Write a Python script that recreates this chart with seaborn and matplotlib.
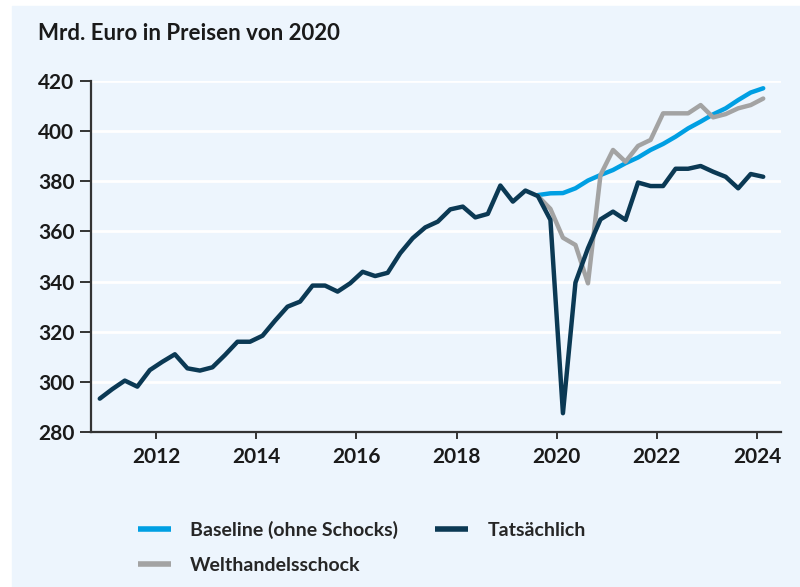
import matplotlib
matplotlib.use("Agg")
import matplotlib.pyplot as plt
import matplotlib.patches as mpatches
import seaborn as sns
import pandas as pd
import numpy as np

# quarterly series, 2010Q4 .. 2024Q1
quarters = pd.period_range("2010Q4", "2024Q1", freq="Q")

actual = [293.3, 297.1, 300.5, 298.1, 304.7, 308.0, 311.0, 305.4, 304.5, 305.8,
          310.7, 316.0, 316.0, 318.4, 324.4, 330.0, 332.0, 338.4, 338.4, 336.0,
          339.3, 343.9, 342.2, 343.5, 351.3, 357.3, 361.6, 363.9, 368.8, 369.9,
          365.6, 367.0, 378.3, 371.9, 376.3, 374.1, 364.6, 287.5, 339.6, 353.3,
          364.8, 367.9, 364.6, 379.5, 378.1, 378.1, 385.0, 385.0, 386.1, 383.8,
          381.8, 377.2, 382.9, 381.8]

# scenarios start in 2019Q3
baseline = [374.5, 375.2, 375.3, 377.2, 380.3, 382.5, 384.5, 387.2, 389.5, 392.5,
            394.9, 397.8, 401.1, 403.8, 406.7, 409.1, 412.4, 415.4, 417.1]
trade_shock = [374.1, 369.0, 357.5, 354.6, 339.3, 382.5, 392.5, 387.8, 394.1, 396.5,
               407.1, 407.1, 407.1, 410.4, 405.5, 406.8, 409.1, 410.4, 413.0]

labels = ["Baseline (ohne Schocks)", "Welthandelsschock", "Tatsächlich"]
colors = ["#009fe3", "#a3a3a3", "#0b3954"]

t = quarters.year + (quarters.quarter - 0.5) / 4
start = len(actual) - len(baseline)

df = pd.concat([
    pd.DataFrame({"t": t[start:], "value": baseline, "series": labels[0]}),
    pd.DataFrame({"t": t[start:], "value": trade_shock, "series": labels[1]}),
    pd.DataFrame({"t": t, "value": actual, "series": labels[2]}),
])

sns.set_theme(style="white")
plt.rcParams["font.family"] = ["Lato", "DejaVu Sans"]

bg = "#edf5fd"
fig = plt.figure(figsize=(8, 5.87), dpi=100)
panel = mpatches.Rectangle((12 / 800, 0), 1, 1 - 6 / 587,
                           transform=fig.transFigure, color=bg, zorder=-10)
fig.patches.append(panel)
ax = fig.add_axes([91 / 800, 1 - 432 / 587, (781 - 91) / 800, (432 - 81) / 587])
ax.set_facecolor(bg)

sns.lineplot(data=df, x="t", y="value", hue="series", hue_order=labels,
             palette=dict(zip(labels, colors)), linewidth=3.2, ax=ax,
             legend=False)

ax.set_xlim(2010.70, 2024.48)
ax.set_ylim(280, 420)
ax.set_xticks([2012, 2014, 2016, 2018, 2020, 2022, 2024])
ax.set_yticks(range(280, 421, 20))
ax.grid(axis="y", color="white", linewidth=2)
ax.set_axisbelow(True)
for s in ["top", "right"]:
    ax.spines[s].set_visible(False)
for s in ["left", "bottom"]:
    ax.spines[s].set_color("#333333")
    ax.spines[s].set_linewidth(1.6)
ax.tick_params(axis="y", left=True, direction="out", length=8, width=1.4,
               color="#333333", labelsize=15, pad=4)
ax.tick_params(axis="x", bottom=True, direction="out", length=5, width=1.4,
               color="#333333", labelsize=15, pad=6)
for lab in ax.get_xticklabels() + ax.get_yticklabels():
    lab.set_fontweight("bold")
    lab.set_color("#1a1a1a")
ax.set_xlabel("")
ax.set_ylabel("")

fig.text(38 / 800, 1 - 33 / 587, "Mrd. Euro in Preisen von 2020", fontsize=16,
         fontweight="bold", color="#1a1a1a", va="center", ha="left")

handles = [plt.Line2D([], [], color=c, linewidth=4, solid_capstyle="butt")
           for c in colors]
fig.legend(handles, labels, ncol=2, frameon=False, loc="upper left",
           bbox_to_anchor=(120 / 800, 1 - 503 / 587),
           handlelength=1.7, handletextpad=1.0, columnspacing=1.9,
           labelspacing=0.95, prop={"weight": "bold", "size": 14})

fig.savefig("out.png", dpi=100)
